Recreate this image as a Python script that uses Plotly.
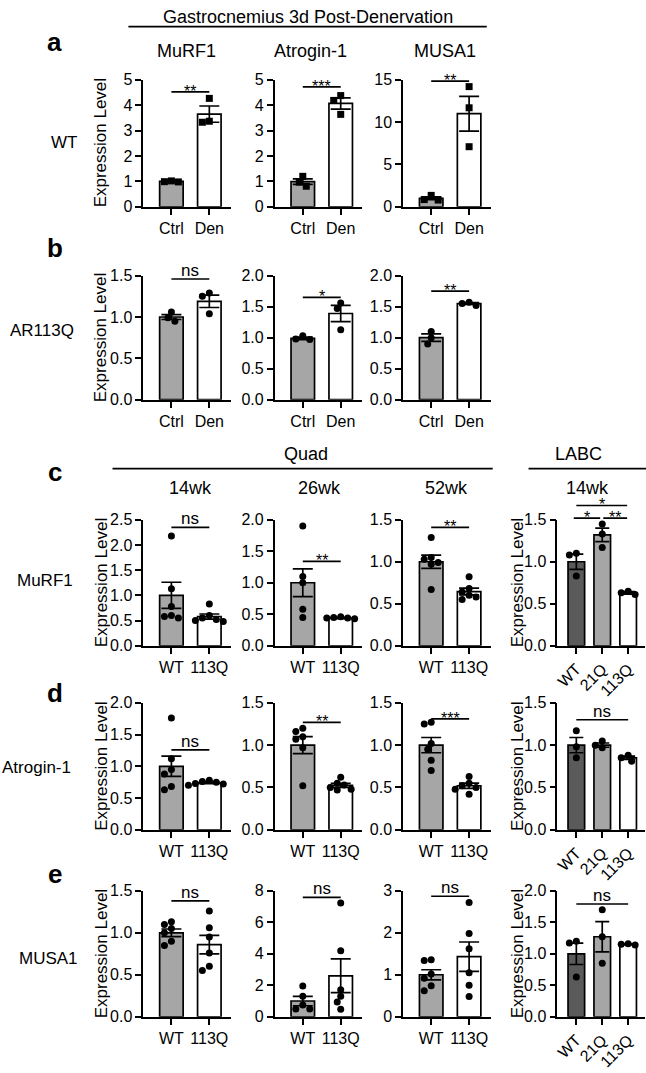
import plotly.graph_objects as go

W, H = 646, 1073
FONT = "Liberation Sans, Arial, sans-serif"

# ---------------- data ----------------
ab_cats = ["Ctrl", "Den"]
q_cats = ["WT", "113Q"]
l_cats = ["WT", "21Q", "113Q"]

a_titles = ["MuRF1", "Atrogin-1", "MUSA1"]
a_pts = [
    [[1.02, 0.99, 0.98], [4.27, 3.37, 3.33]],
    [[1.20, 0.97, 0.81], [4.38, 4.19, 3.64]],
    [[1.35, 0.85, 0.80], [14.2, 11.7, 7.1]],
]
a_mean = [[1.0, 3.65], [0.99, 4.07], [1.0, 11.0]]
a_sem = [[0.015, 0.32], [0.11, 0.22], [0.17, 2.05]]
a_ymax = [5, 5, 15]
a_dtick = [1, 1, 5]
a_sig = [[("**", 0, 1, 4.53)], [("***", 0, 1, 4.72)], [("**", 0, 1, 14.85)]]

b_pts = [
    [[1.06, 0.99, 0.95], [1.29, 1.25, 1.04]],
    [[1.03, 0.98, 0.97], [1.56, 1.47, 1.13]],
    [[1.10, 1.00, 0.90], [1.57, 1.55, 1.52]],
]
b_mean = [[1.0, 1.19], [0.99, 1.39], [1.0, 1.55]]
b_sem = [[0.03, 0.075], [0.02, 0.13], [0.06, 0.015]]
b_ymax = [1.5, 2.0, 2.0]
b_dtick = [0.5, 0.5, 0.5]
b_sig = [[("ns", 0, 1, 1.46)], [("*", 0, 1, 1.65)], [("**", 0, 1, 1.75)]]

cde_ages = ["14wk", "26wk", "52wk", "14wk"]

c_pts = [
    [[2.18, 1.13, 0.78, 0.60, 0.55, 0.58], [0.83, 0.60, 0.55, 0.52, 0.50, 0.48]],
    [[1.90, 1.10, 1.00, 0.58, 0.45], [0.46, 0.45, 0.44, 0.44, 0.43]],
    [[1.29, 1.05, 1.03, 0.99, 0.97, 0.67], [0.82, 0.68, 0.64, 0.60, 0.58, 0.55]],
    [[1.10, 1.08, 0.83], [1.45, 1.33, 1.17], [0.65, 0.63, 0.61]],
]
c_mean = [[1.0, 0.58], [1.0, 0.44], [1.0, 0.645], [1.0, 1.32, 0.63]]
c_sem = [[0.26, 0.05], [0.22, 0.01], [0.08, 0.04], [0.09, 0.08, 0.015]]
c_ymax = [2.5, 2.0, 1.5, 1.5]
c_dtick = [0.5, 0.5, 0.5, 0.5]
c_sig = [[("ns", 0, 1, 2.35)], [("**", 0, 1, 1.34)], [("**", 0, 1, 1.41)],
         [("*", -0.1, 0.92, 1.52), ("**", 1.04, 1.96, 1.52), ("*", 0, 1.96, 1.67)]]

d_pts = [
    [[1.76, 1.12, 0.95, 0.88, 0.68, 0.63], [0.78, 0.76, 0.75, 0.73, 0.72, 0.70]],
    [[1.20, 1.16, 1.10, 1.07, 0.97, 0.52], [0.62, 0.55, 0.53, 0.50, 0.48, 0.47]],
    [[1.27, 1.25, 1.02, 0.95, 0.82, 0.70], [0.63, 0.55, 0.52, 0.50, 0.48, 0.42]],
    [[1.17, 0.98, 0.85], [1.05, 1.00, 0.97], [0.88, 0.85, 0.81]],
]
d_mean = [[1.0, 0.74], [1.0, 0.525], [1.0, 0.52], [1.0, 1.0, 0.85]]
d_sem = [[0.16, 0.012], [0.10, 0.023], [0.09, 0.03], [0.09, 0.025, 0.02]]
d_ymax = [2.0, 1.5, 1.5, 1.5]
d_dtick = [0.5, 0.5, 0.5, 0.5]
d_sig = [[("ns", 0, 1, 1.26)], [("**", 0, 1, 1.27)], [("***", 0, 1, 1.31)], [("ns", 0, 2, 1.30)]]

e_pts = [
    [[1.13, 1.10, 1.05, 1.00, 0.90, 0.85], [1.26, 1.06, 0.95, 0.76, 0.60, 0.55]],
    [[1.95, 1.30, 0.75, 0.50, 0.50], [7.23, 4.19, 1.71, 1.30, 0.93, 0.48]],
    [[1.36, 1.34, 1.02, 0.92, 0.74, 0.62], [2.72, 1.98, 1.62, 1.05, 0.75, 0.48]],
    [[1.20, 1.17, 0.63], [1.70, 1.27, 0.85], [1.16, 1.15, 1.14]],
]
e_mean = [[1.0, 0.86], [1.0, 2.6], [1.0, 1.43], [1.0, 1.27, 1.15]]
e_sem = [[0.045, 0.11], [0.30, 1.07], [0.12, 0.35], [0.17, 0.24, 0.006]]
e_ymax = [1.5, 8, 3, 2.0]
e_dtick = [0.5, 2, 1, 0.5]
e_sig = [[("ns", 0, 1, 1.38)], [("ns", 0, 1, 7.58)], [("ns", 0, 1, 2.87)], [("ns", 0, 2, 1.79)]]

# ---------------- styling / layout geometry ----------------
GRAY = "#a6a6a6"
DARK = "#5a5a5a"
WHITE = "#ffffff"
ROWS = {"a": (73, 202), "b": (272, 398), "c": (520, 648), "d": (706, 835), "e": (897, 1025)}
COLS = [(141, 229), (273, 361), (402, 490), (557, 645)]
XR2 = [-0.74, 1.57]
XR3 = [-0.73, 2.65]
EXT = 40  # extra px above each plot for significance marks


def px(x):
    return x / W


def py(y):
    return 1 - y / H


panels = []
for i in range(3):
    panels.append(dict(row="a", col=i, cats=ab_cats, pts=a_pts[i], mean=a_mean[i], sem=a_sem[i],
                       ymax=a_ymax[i], dtick=a_dtick[i], sig=a_sig[i], colors=[GRAY, WHITE], sym="square"))
for i in range(3):
    panels.append(dict(row="b", col=i, cats=ab_cats, pts=b_pts[i], mean=b_mean[i], sem=b_sem[i],
                       ymax=b_ymax[i], dtick=b_dtick[i], sig=b_sig[i], colors=[GRAY, WHITE], sym="circle"))
for r, P, M, S, Y, D, G in [("c", c_pts, c_mean, c_sem, c_ymax, c_dtick, c_sig),
                            ("d", d_pts, d_mean, d_sem, d_ymax, d_dtick, d_sig),
                            ("e", e_pts, e_mean, e_sem, e_ymax, e_dtick, e_sig)]:
    for i in range(4):
        cats = l_cats if i == 3 else q_cats
        cols = [DARK, GRAY, WHITE] if i == 3 else [GRAY, WHITE]
        panels.append(dict(row=r, col=i, cats=cats, pts=P[i], mean=M[i], sem=S[i],
                           ymax=Y[i], dtick=D[i], sig=G[i], colors=cols, sym="circle"))

NP = len(panels)


def aid(n):
    return "" if n == 1 else str(n)


def swarm(vals, ppy, ppx, d=7.0):
    order = sorted(range(len(vals)), key=lambda i: -vals[i])
    placed = []
    offs = [0.0] * len(vals)
    cands = [0.0]
    for k in range(1, 12):
        cands += [-k * d / 2, k * d / 2]
    for i in order:
        yy = vals[i] * ppy
        chosen = 0.0
        for c in cands:
            if all((c - a) ** 2 + (yy - b) ** 2 >= (d * 0.9) ** 2 for a, b in placed):
                chosen = c
                break
        placed.append((chosen, yy))
        offs[i] = chosen / ppx
    return offs


fig = go.Figure()
layout = dict(width=W, height=H, margin=dict(l=0, r=0, t=0, b=0), showlegend=False,
              plot_bgcolor="rgba(0,0,0,0)", paper_bgcolor="white",
              font=dict(family=FONT, size=16, color="black"), barmode="overlay")
annotations = []
shapes = []

for k, p in enumerate(panels, start=1):
    xa, ya, ye = "x" + aid(k), "y" + aid(k), "y" + aid(k + NP)
    x0, x1 = COLS[p["col"]]
    ytop, ybot = ROWS[p["row"]]
    n = len(p["cats"])
    xr = XR3 if n == 3 else XR2
    ymax = p["ymax"]
    ye_max = ymax * (ybot - (ytop - EXT)) / (ybot - ytop)
    nt = int(round(ymax / p["dtick"]))
    tv = [j * p["dtick"] for j in range(nt + 1)]
    fmt = "{:.0f}" if float(p["dtick"]).is_integer() else "{:.1f}"
    layout["xaxis" + aid(k)] = dict(
        domain=[px(x0), px(x1)], anchor=ya, range=xr, tickvals=list(range(n)), ticktext=p["cats"],
        showline=True, linecolor="black", linewidth=1.7, ticks="outside", ticklen=6, tickwidth=1.7,
        tickcolor="black", showgrid=False, zeroline=False, fixedrange=True,
        tickangle=-45 if n == 3 else 0, tickfont=dict(size=16))
    layout["yaxis" + aid(k)] = dict(
        domain=[py(ybot), py(ytop)], anchor=xa, range=[0, ymax], tickvals=tv,
        ticktext=[fmt.format(v) for v in tv],
        showline=True, linecolor="black", linewidth=1.7, ticks="outside", ticklen=6, tickwidth=1.7,
        tickcolor="black", showgrid=False, zeroline=False, fixedrange=True, tickfont=dict(size=16))
    layout["yaxis" + aid(k + NP)] = dict(
        domain=[py(ybot), py(ytop - EXT)], anchor=xa, range=[0, ye_max], visible=False, fixedrange=True)

    bw = 0.62 if n == 2 else 0.64
    cap = 10 if n == 2 else 7
    fig.add_trace(go.Bar(x=list(range(n)), y=p["mean"], width=bw, xaxis=xa, yaxis=ya,
                         marker=dict(color=p["colors"], line=dict(color="black", width=1.7)),
                         error_y=dict(type="data", array=p["sem"], color="black", thickness=1.7, width=cap),
                         hoverinfo="skip"))
    ppy = (ybot - ytop) / ymax
    ppx = (x1 - x0) / (xr[1] - xr[0])
    for ci, vals in enumerate(p["pts"]):
        offs = swarm(vals, ppy, ppx)
        fig.add_trace(go.Scatter(x=[ci + o for o in offs], y=vals, mode="markers", xaxis=xa, yaxis=ya,
                                 marker=dict(symbol=p["sym"], size=7, color="black"),
                                 cliponaxis=False, hoverinfo="skip"))
    for (txt, i0, i1, v) in p["sig"]:
        fig.add_trace(go.Scatter(x=[i0, i1], y=[v, v], mode="lines", xaxis=xa, yaxis=ye,
                                 line=dict(color="black", width=1.7), hoverinfo="skip"))
        is_ns = txt == "ns"
        annotations.append(dict(x=(i0 + i1) / 2, y=v, xref=xa, yref=ye, text=txt, showarrow=False,
                                yanchor="bottom", yshift=-3 if is_ns else -10,
                                font=dict(size=17 if is_ns else 16, family=FONT)))


def label(x, y, text, size=16, bold=False, angle=0):
    t = "<b>%s</b>" % text if bold else text
    annotations.append(dict(x=px(x), y=py(y), xref="paper", yref="paper", text=t, showarrow=False,
                            xanchor="center", yanchor="middle", textangle=angle,
                            font=dict(size=size, family=FONT)))


# headers
label(306, 9, "Gastrocnemius 3d Post-Denervation", 18)
shapes.append(dict(type="line", xref="paper", yref="paper", x0=px(126), x1=px(486), y0=py(19), y1=py(19),
                   line=dict(color="black", width=1.7)))
label(52, 35, "a", 26, bold=True)
for x, t in zip([184, 309, 444], a_titles):
    label(x, 44, t, 18)
label(61, 137, "WT", 17)
label(98, 137, "Expression Level", 17, angle=-90)

label(52, 244, "b", 26, bold=True)
label(39, 328, "AR113Q", 17)
label(98, 335, "Expression Level", 17, angle=-90)

label(52, 471, "c", 26, bold=True)
label(304, 453, "Quad", 18)
shapes.append(dict(type="line", xref="paper", yref="paper", x0=px(110), x1=px(492), y0=py(468), y1=py(468),
                   line=dict(color="black", width=1.7)))
label(578, 453, "LABC", 18)
shapes.append(dict(type="line", xref="paper", yref="paper", x0=px(528), x1=px(646), y0=py(468), y1=py(468),
                   line=dict(color="black", width=1.7)))
for x, t in zip([188, 318, 446, 587], cde_ages):
    label(x, 488, t, 18)

label(42, 582, "MuRF1", 17)
label(52, 696, "d", 26, bold=True)
label(34, 772, "Atrogin-1", 17)
label(52, 880, "e", 26, bold=True)
label(46, 966, "MUSA1", 17)

for r in ["c", "d", "e"]:
    yt, yb = ROWS[r]
    label(99, (yt + yb) / 2, "Expression Level", 17, angle=-90)
    label(517, (yt + yb) / 2, "Expression Level", 17, angle=-90)

layout["annotations"] = annotations
layout["shapes"] = shapes
fig.update_layout(**layout)
fig.write_html("out.html", config={"displayModeBar": False},
               post_script="document.body.style.margin='0px';document.body.style.overflow='hidden';")
